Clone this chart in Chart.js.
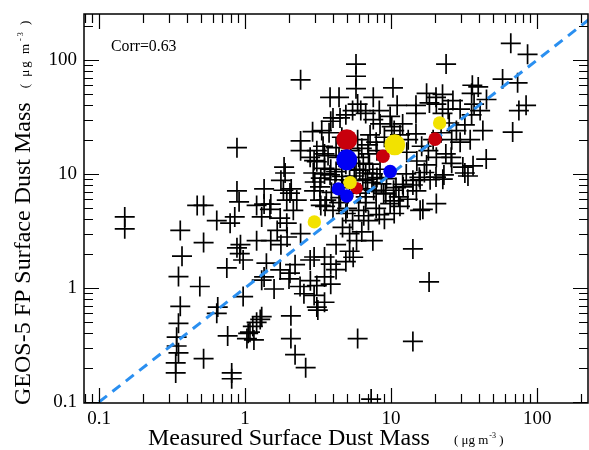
<!DOCTYPE html>
<html><head><meta charset="utf-8">
<script src="https://cdn.jsdelivr.net/npm/chart.js@4.4.1/dist/chart.umd.min.js"></script>
<style>html,body{margin:0;padding:0;background:#fff}canvas{display:block}</style>
</head><body>
<canvas id="c" width="589" height="450"></canvas>
<script>
// ---- data ----
const crossX = [0.15,0.15,0.36,0.37,0.35,0.49,0.36,0.35,0.34,0.34,0.35,0.335,0.335,0.52,
0.47,0.52,0.52,0.64,0.79,0.85,0.88,0.75,0.88,0.91,0.88,
0.64,0.65,0.97,0.81,0.81,0.76,
1.03,1.08,1.13,1.2,1.27,1.3,1.15,1.05,
1.35,1.58,2.0,2.06,2.53,2.8,3.1,3.15,2.06,2.2,2.6,3.5,1.3,1.74,2.03,0.97,0.92,1.2,1.4,1.3,0.93,
18.2,5.9,14.1,7.3,
2.38,2.79,2.2,4.2,4.2,3.1,3.86,2.97,3.5,
2.4,3.1,3.5,2.97,3.86,3.5,2.97,3.3,3.6,
1.85,1.76,2.07,1.5,1.35,1.35,1.2,1.48,
1.66,1.76,1.94,2.4,2.97,3.5,3.86,1.5,1.74,1.93,2.03,2.26,3.26,
2.4,3.82,3.76,2.4,3.86,
5.75,5.75,5.75,5.9,5.45,7.55,7.55,4.4,10.3,14.8,23.8,20.3,22.5,26.5,36,39.5,45,37,58,73.5,66,86,75,84,42.5,68,14.8,12,10.1,6.7,4.9,8.3,18.3,20.4,22.5,
6.2,4.47,4.0,8.4,9.85,11,17.5,24.6,29.7,35.6,35.6,40.7,
2.9,3.35,3.42,5.9,6.3,7.18,6.95,7.9,13.1,14.8,16.2,19.4,26,29.7,34.8,
1.88,2.79,3.1,3.5,2.93,3.82,4.13,6.45,6.7,8.4,17.5,20.4,26,23,32,15.8,18.5,
1.83,1.93,2.14,3.26,3.53,4.0,6.13,6.7,7.6,8.9,10.4,12.1,14.1,9.85,11.5,15.8,20.4,
4.4,4.9,5.45,6.0,6.7,7.0,4.65,5.2,6.3,7.5,5.2,5.8,5.5,4.9,
9.2,10.5,14.1,15.6,16.9,14.9,12,12.7,10.8,
20.3,22.6,23.7,25.8,31,33.6,36.4,44.8,16.5,14.1,
4.4,4.9,5.75,7.1,7.5,6.4,4.65,5.45,6.7,7.9,
3.0,3.3,4.2,4.6,5.2,5.6,6.1,6.9,7.4,8.0,8.6,9.3,3.9,4.5,5.0,6.5,7.9,8.3,9.0,10.5,11.3,13.0,
3.7,4.2,4.6,5.3,6.0,7.0,8.0,9.0,10.5,11.5,12.8,15,18,22,25,28,32];
const crossY = [4.2,3.3,3.2,1.9,1.26,1.03,0.69,0.49,0.37,0.31,0.27,0.22,0.18,0.24,
5.3,5.3,2.5,3.9,3.7,4.2,2.25,1.5,7.1,5.7,17,
0.6,0.68,0.84,0.18,0.16,0.38,
0.36,0.41,0.46,0.5,0.53,0.56,0.35,0.4,
1.25,0.98,1.2,0.57,0.89,1.16,0.68,0.64,0.36,0.26,0.2,1.25,1.17,1.44,1.35,1.76,2.0,2.6,1.65,4.2,2.4,
1.13,0.36,0.34,0.106,
1.03,1.76,1.6,1.45,2.4,1.05,1.08,0.86,0.75,
16,16,15,13.1,11,10,7.1,5.3,5.9,
11.5,8.8,7.4,5.45,7.4,5.45,5.3,4.9,
3.2,2.4,2.8,3.0,1.87,1.87,1.62,2.6,4.1,3.7,6.8,5.9,7.7,
67,47,23,19.5,29,
92,72,56,41,36,47,30,47,57,40,92,47,50,44,60,58,45,41,68,63,140,112,36,40,24,23.3,34,27.5,26,34,33,36,42,41,34,
36,31,31,27.5,32,40,51,37,37,51,33,36,
23.5,24,17.5,20,16.8,22,18,19,20,22.5,17.5,20,20,19,20,
10.2,14,12.8,11.2,10.2,9.8,8.9,12.4,10.2,11,12,14,12.4,9.8,10.2,8.9,8.9,
7.2,5.9,4.8,5.9,5.2,4.8,6.8,6.3,7.2,6.8,7.2,7.7,8.0,5.5,5.2,4.8,5.5,
5.6,4.5,3.9,4.8,5.6,3.9,3.4,3.0,3.1,2.6,2.1,2.6,1.86,1.7,
6.7,5.8,8.8,9.35,10.3,7.1,8.1,10,7.6,
9.4,9.0,15,14,11.5,9.6,11.8,13.5,4.9,2.2,
14,12.2,11,12.2,10,8.8,8.1,7.6,7.4,7.1,
8.5,9.2,10.5,9.5,8.8,9.6,10.8,9.0,8.4,9.3,8.2,9.1,6.9,6.2,5.0,4.3,5.0,4.4,4.0,4.5,6.3,6.0,
14.5,17,21,16,14,15,16,21,24,22,15.5,13,16,23,28,24,27];

const redX = [4.97, 8.8, 20, 5.8];
const redY = [20, 14.3, 20.2, 7.5];
const redRadius = [10.5, 6.8, 6.8, 6.2];

const blueX = [4.97, 9.85, 4.35, 4.97];
const blueY = [13.3, 10.5, 7.4, 6.4];
const blueRadius = [10.5, 6.8, 6.7, 6.7];

const yellowX = [10.6, 21.5, 5.24, 2.98];
const yellowY = [18, 28, 8.4, 3.8];
const yellowRadius = [10.5, 6.7, 6.7, 6.7];

const oneToOneX = [0.1, 300];
const oneToOneY = [0.1, 300];

const xTicks = [0.1, 1, 10, 100];
const xTickLabels = ['0.1', '1', '10', '100'];
const yTicks = [0.1, 1, 10, 100];
const yTickLabels = ['0.1', '1', '10', '100'];
const xMin = 0.0789, xMax = 223;
const yMin = 0.098, yMax = 253;
const corrText = 'Corr=0.63';
const xTitle = 'Measured Surface Dust Mass';
const yTitle = 'GEOS-5 FP Surface Dust Mass';

// ---- chart ----
const SERIF = '"Liberation Serif", "Times New Roman", Times, serif';
const pts = (xs, ys) => xs.map((x, i) => ({x: x, y: ys[i]}));

function drawUnit(ctx, x, y, size, spacing) {
  ctx.letterSpacing = spacing + 'px';
  ctx.font = size + 'px ' + SERIF;
  ctx.textAlign = 'left';
  ctx.textBaseline = 'alphabetic';
  let s1 = '( \u03BCg m';
  ctx.fillText(s1, x, y);
  let w = ctx.measureText(s1).width;
  ctx.font = (size * 0.62) + 'px ' + SERIF;
  ctx.fillText('-3', x + w + 1, y - size * 0.5);
  let w2 = ctx.measureText('-3').width;
  ctx.font = size + 'px ' + SERIF;
  ctx.fillText(' )', x + w + w2 + 1, y);
  ctx.letterSpacing = '0px';
}

const decor = {
  id: 'decor',
  afterDatasetsDraw(chart) {
    const ctx = chart.ctx, a = chart.chartArea;
    const xs = chart.scales.x, ys = chart.scales.y;
    ctx.save();
    ctx.strokeStyle = '#000';
    ctx.lineWidth = 1.5;
    ctx.strokeRect(a.left, a.top, a.right - a.left, a.bottom - a.top);
    ctx.lineWidth = 1.2;
    ctx.beginPath();
    for (let d = 0.01; d <= 1000; d *= 10) {
      for (let m = 1; m <= 9; m++) {
        const v = m * d;
        const len = m === 1 ? 15 : 9;
        if (v >= xMin && v <= xMax) {
          const px = Math.round(xs.getPixelForValue(v)) + 0.5;
          ctx.moveTo(px, a.bottom); ctx.lineTo(px, a.bottom - len);
          ctx.moveTo(px, a.top); ctx.lineTo(px, a.top + len);
        }
        if (v >= yMin && v <= yMax) {
          const py = Math.round(ys.getPixelForValue(v)) + 0.5;
          ctx.moveTo(a.left, py); ctx.lineTo(a.left + len, py);
          ctx.moveTo(a.right, py); ctx.lineTo(a.right - len, py);
        }
      }
    }
    ctx.stroke();

    ctx.fillStyle = '#000';
    ctx.font = '15.8px ' + SERIF;
    ctx.textAlign = 'left';
    ctx.textBaseline = 'middle';
    ctx.fillText(corrText, 111, 47);

    ctx.font = '24px ' + SERIF;
    ctx.textBaseline = 'alphabetic';
    ctx.fillText(xTitle, 148, 445);
    const xw = ctx.measureText(xTitle).width;
    drawUnit(ctx, 148 + xw + 24, 444, 13, 0);

    ctx.save();
    ctx.translate(30, 405);
    ctx.rotate(-Math.PI / 2);
    ctx.font = '24px ' + SERIF;
    ctx.textBaseline = 'alphabetic';
    ctx.fillText(yTitle, 0, 0);
    const yw = ctx.measureText(yTitle).width;
    drawUnit(ctx, yw + 14, -1, 13, 2);
    ctx.restore();
    ctx.restore();
  }
};

function zeroPad(s) { s.paddingLeft = 0; s.paddingRight = 0; s.paddingTop = 0; s.paddingBottom = 0; }

new Chart(document.getElementById('c'), {
  type: 'scatter',
  data: {
    datasets: [
      {data: pts(yellowX, yellowY), pointStyle: 'circle', backgroundColor: '#f2e200', borderColor: '#f2e200', borderWidth: 0, pointRadius: yellowRadius},
      {data: pts(blueX, blueY), pointStyle: 'circle', backgroundColor: '#0000f5', borderColor: '#0000f5', borderWidth: 0, pointRadius: blueRadius},
      {data: pts(redX, redY), pointStyle: 'circle', backgroundColor: '#c8000c', borderColor: '#c8000c', borderWidth: 0, pointRadius: redRadius},
      {type: 'line', data: pts(oneToOneX, oneToOneY), borderColor: '#2a8ff0', borderWidth: 3, borderDash: [10, 7], pointRadius: 0, fill: false, tension: 0},
      {data: pts(crossX, crossY), pointStyle: 'cross', pointRadius: 10, borderColor: '#000', backgroundColor: '#000', borderWidth: 1.7}
    ]
  },
  options: {
    responsive: false,
    animation: false,
    devicePixelRatio: 1,
    events: [],
    layout: {autoPadding: false, padding: {top: 14, right: 1, left: 0, bottom: 0}},
    plugins: {legend: {display: false}, tooltip: {enabled: false}},
    scales: {
      x: {
        type: 'logarithmic', position: 'bottom', min: xMin, max: xMax,
        afterBuildTicks: s => { s.ticks = xTicks.map(v => ({value: v})); },
        afterFit: s => { s.height = 47; zeroPad(s); },
        ticks: {autoSkip: false, maxRotation: 0, minRotation: 0, padding: 5, color: '#000',
          font: {family: SERIF, size: 19},
          callback: v => { const i = xTicks.indexOf(v); return i >= 0 ? xTickLabels[i] : ''; }},
        grid: {display: false, drawTicks: false},
        border: {display: false}
      },
      y: {
        type: 'logarithmic', position: 'left', min: yMin, max: yMax,
        afterBuildTicks: s => { s.ticks = yTicks.map(v => ({value: v})); },
        afterFit: s => { s.width = 84; zeroPad(s); },
        ticks: {autoSkip: false, padding: 7, color: '#000',
          font: {family: SERIF, size: 19},
          callback: v => { const i = yTicks.indexOf(v); return i >= 0 ? yTickLabels[i] : ''; }},
        grid: {display: false, drawTicks: false},
        border: {display: false}
      }
    }
  },
  plugins: [decor]
});
</script>
</body></html>
